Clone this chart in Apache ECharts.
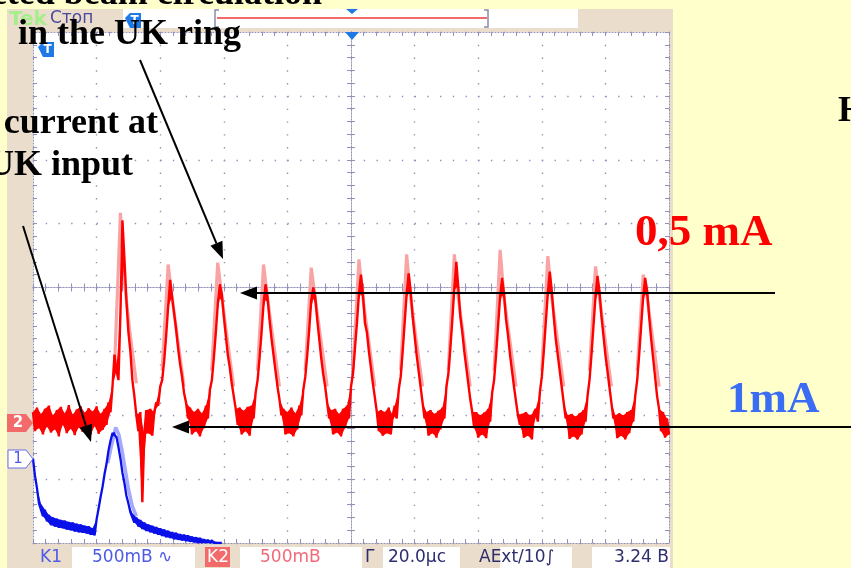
<!DOCTYPE html>
<html><head><meta charset="utf-8">
<script src="https://cdn.jsdelivr.net/npm/echarts@6/dist/echarts.min.js"></script>
<style>html,body{margin:0;padding:0;background:#FFFFCC;overflow:hidden}#c{width:851px;height:568px}</style>
</head><body><div id="c"></div>
<script>
// ---- data (time in µs, amplitude in screen divisions) ----
const timeStartUs = -100;
const sampleStepUs = 0.625;
// channel 2 (red): beam circulation in the ring
const ch2Values = [
-1.95,-2.25,-1.88,-2.20,-1.98,-2.30,-1.90,-2.18,-1.85,-2.27,-2.00,-2.22,-1.92,-2.33,-1.87,-2.15,-1.97,-2.28,-1.84,-2.21,-1.99,-2.31,-1.91,-2.19,-1.86,-2.26,-1.96,-2.24,-1.89,-2.30,-1.94,-2.17,-1.86,-2.29,-1.98,-2.23,-1.90,
-2.15,-1.80,-1.95,-1.55,-1.05,-1.30,-1.45,-0.40,1.05,0.45,-0.20,-0.70,-1.00,-1.45,-1.70,-2.00,-2.25,-1.95,-3.36,-2.30,-1.92,-2.28,-1.90,-2.32,-1.95,-1.80,
-1.85,-1.55,-1.45,-1.15,-0.75,-0.30,0.12,-0.15,-0.40,-0.65,-0.95,-1.20,-1.40,-1.65,-1.80,-2.05,-1.88,-2.30,-1.95,-2.25,-1.90,-2.33,-1.97,-2.20,
-1.85,-2.05,-1.60,-1.45,-1.10,-0.70,-0.25,0.05,-0.10,-0.45,-0.75,-1.05,-1.25,-1.50,-1.70,-1.90,-2.15,-1.88,-2.30,-1.93,-2.25,-1.87,-2.32,
-1.85,-2.05,-1.65,-1.45,-1.10,-0.70,-0.25,0.05,-0.15,-0.50,-0.80,-1.05,-1.30,-1.55,-1.75,-2.00,-1.90,-2.30,-1.95,-2.28,-1.88,-2.33,-1.97,-2.22,
-1.85,-2.00,-1.60,-1.40,-1.05,-0.65,-0.20,0.00,-0.15,-0.50,-0.80,-1.10,-1.35,-1.55,-1.80,-2.05,-1.92,-2.30,-1.90,-2.27,-1.98,-2.33,-1.90,-2.20,
-1.85,-2.05,-1.55,-1.35,-0.95,-0.55,-0.10,0.20,-0.10,-0.55,-0.70,-1.00,-1.25,-1.50,-1.72,-1.95,-2.25,-1.92,-2.32,-1.95,-2.28,-1.88,-2.30,-2.00,
-1.85,-2.05,-1.60,-1.40,-1.00,-0.55,-0.10,0.22,-0.05,-0.45,-0.75,-1.05,-1.30,-1.55,-1.80,-2.05,-1.95,-2.32,-1.92,-2.28,-1.98,-2.35,-1.93,-2.22,
-1.88,-2.05,-1.55,-1.35,-0.95,-0.50,0.00,0.40,0.00,-0.45,-0.70,-1.00,-1.25,-1.50,-1.75,-1.95,-2.20,-1.95,-2.35,-2.00,-2.30,-1.96,-2.36,
-1.90,-2.10,-1.65,-1.45,-1.05,-0.60,-0.15,0.15,-0.10,-0.50,-0.75,-1.05,-1.30,-1.55,-1.78,-2.00,-2.15,-1.98,-2.35,-1.95,-2.32,-2.00,-2.38,-1.96,
-1.90,-2.10,-1.65,-1.40,-1.00,-0.55,-0.10,0.25,-0.05,-0.45,-0.80,-1.05,-1.30,-1.55,-1.80,-2.05,-2.00,-2.37,-1.98,-2.33,-2.02,-2.38,-1.97,-2.30,
-1.92,-2.10,-1.70,-1.45,-1.05,-0.60,-0.15,0.18,-0.05,-0.45,-0.75,-1.05,-1.30,-1.55,-1.80,-2.05,-2.00,-2.36,-1.97,-2.32,-2.00,-2.38,-1.95,-2.28,
-1.92,-2.10,-1.70,-1.45,-1.05,-0.60,-0.15,0.15,-0.05,-0.45,-0.80,-1.10,-1.40,-1.70,-1.90,-2.25,-1.95,-2.35,-2.05,-2.30
];
// channel 2 persistence (lighter) around each turn peak: [time µs, div]
const ch2Persist = [
 [[-74.4,-1.3],[-72.5,1.17],[-71.3,0.1],[-69.4,-0.75],[-67.5,-1.5]],
 [[-59.4,-1.3],[-57.5,0.36],[-56.3,-0.15],[-54.4,-0.85],[-52.5,-1.55]],
 [[-43.8,-1.3],[-41.9,0.39],[-40.6,-0.15],[-38.8,-0.85],[-36.9,-1.55]],
 [[-29.4,-1.3],[-27.5,0.36],[-26.3,-0.15],[-24.4,-0.85],[-22.5,-1.55]],
 [[-14.4,-1.3],[-12.5,0.31],[-11.3,-0.15],[-9.4,-0.85],[-7.5,-1.55]],
 [[0.6,-1.3],[2.5,0.44],[3.7,-0.15],[5.6,-0.85],[7.5,-1.55]],
 [[15.6,-1.3],[17.5,0.52],[18.7,-0.15],[20.6,-0.85],[22.5,-1.55]],
 [[30.6,-1.3],[32.5,0.52],[33.7,-0.15],[35.6,-0.85],[37.5,-1.55]],
 [[45.0,-1.3],[46.9,0.59],[48.1,-0.15],[50.0,-0.85],[51.9,-1.55]],
 [[60.0,-1.3],[61.9,0.49],[63.1,-0.15],[65.0,-0.85],[66.9,-1.55]],
 [[75.0,-1.3],[76.9,0.33],[78.1,-0.15],[80.0,-0.85],[81.9,-1.55]],
 [[90.0,-1.3],[91.9,0.20],[93.1,-0.15],[95.0,-0.85],[96.9,-1.55]]
];
// channel 1 (blue): current at the ring input
const ch1Values = [
-2.68,-2.95,-3.14,-3.38,-3.38,-3.58,-3.48,-3.66,-3.56,-3.72,-3.60,-3.74,-3.62,-3.76,-3.64,-3.77,-3.65,-3.79,-3.67,-3.80,-3.68,-3.82,-3.70,-3.83,-3.71,-3.84,-3.73,-3.85,-3.74,-3.87,-3.77,-3.88,
-3.63,-3.46,-3.28,-3.12,-2.92,-2.76,-2.55,-2.40,-2.28,-2.26,-2.34,-2.50,-2.68,-2.90,-3.06,-3.26,-3.38,-3.52,-3.53,-3.68,-3.60,-3.74,-3.64,-3.78,-3.68,-3.81,-3.71,-3.83,
-3.73,-3.85,-3.75,-3.87,-3.77,-3.89,-3.79,-3.91,-3.81,-3.92,-3.83,-3.94,-3.84,-3.95,-3.86,-3.96,-3.87,-3.97,-3.88,-3.98,-3.90,-3.99,-3.91,-4.00,-3.92,-4.00,-3.94,-4.00,-3.95,-4.00,-3.96,-4.00,-3.98,-4.00,-3.99,-4.00
];
const ch1Persist = [[-76.5,-2.75],[-75.2,-2.45],[-74.0,-2.19],[-73.0,-2.30],[-72.0,-2.55],[-71.0,-2.85],[-70.0,-3.15],[-68.8,-3.42],[-67.5,-3.58]];
// axis: 10 horizontal divisions of 20 µs, 8 vertical divisions
const xMin = -100, xMax = 100, xDiv = 20;
const yMin = -4, yMax = 4, yDiv = 1;

// ---- build ----
const toPairs = vals => vals.map((v, i) => [timeStartUs + i * sampleStepUs, v]);
// noise band polygon (covers the zig-zag of the samples), in data coordinates
function bandOf(vals) {
  const up = [], lo = [];
  vals.forEach((v, i) => {
    const a = vals[Math.max(0, i - 1)], b = vals[Math.min(vals.length - 1, i + 1)], m = (a + b) / 2;
    const t = timeStartUs + i * sampleStepUs;
    up.push([t, Math.max(v, m)]);
    lo.push([t, Math.min(v, m)]);
  });
  return up.concat(lo.reverse());
}
const bandSeries = (vals, color) => ({
  type: 'custom', coordinateSystem: 'cartesian2d', data: [0], clip: true, silent: true, z: 4,
  renderItem: (params, api) => ({type: 'polygon', shape: {points: bandOf(vals).map(p => api.coord(p))}, style: {fill: color}})
});

const gridCol = '#9191BA';
const G = {left: 33, top: 32, width: 636, height: 511};

function axisBase(extra) {
  return Object.assign({
    type: 'value', axisLabel: {show: false}, splitLine: {show: false},
    axisLine: {show: true, onZero: false, lineStyle: {color: gridCol, width: 1, type: [1, 2]}},
    axisTick: {show: true, inside: true, length: 4, lineStyle: {color: gridCol, width: 1}},
    minorTick: {show: true, splitNumber: 5, length: 4, lineStyle: {color: gridCol, width: 1}}
  }, extra);
}
const xa = (pos, extra) => axisBase(Object.assign({min: xMin, max: xMax, interval: xDiv, position: pos}, extra));
const ya = (pos, extra) => axisBase(Object.assign({min: yMin, max: yMax, interval: yDiv, position: pos}, extra));
const zeroLine = idx => ({show: true, onZero: true, onZeroAxisIndex: idx, lineStyle: {color: gridCol, width: 1, type: [1, 2]}});

const series = [];
ch2Persist.forEach(seg => series.push({type: 'line', data: seg, showSymbol: false, silent: true,
  lineStyle: {color: '#F8A4A4', width: 3.2}, z: 3}));
series.push({type: 'line', data: ch1Persist, showSymbol: false, silent: true, lineStyle: {color: '#A4A8FF', width: 3.5}, z: 3});
series.push(bandSeries(ch1Values, '#0A10E8'));
series.push({type: 'line', data: toPairs(ch1Values), showSymbol: false, lineStyle: {color: '#0A10E8', width: 2.3}, z: 4});
series.push(Object.assign(bandSeries(ch2Values, '#FF0000'), {z: 5}));
series.push({type: 'line', data: toPairs(ch2Values), showSymbol: false, lineStyle: {color: '#FF0000', width: 2.4}, z: 5});

// ---- decoration helpers ----
const graphics = [];
const rect = (x, y, w, h, fill, z) => graphics.push({type: 'rect', shape: {x, y, width: w, height: h}, style: {fill}, z: z == null ? -10 : z, silent: true});
const txt = (s, x, y, font, fill, align, z) => graphics.push({type: 'text', x, y, style: {text: s, font, fill, align: align || 'left', verticalAlign: 'middle'}, z: z == null ? 50 : z, silent: true});
function arrow(x1, y1, x2, y2) {
  const dx = x2 - x1, dy = y2 - y1, L = Math.hypot(dx, dy), ux = dx / L, uy = dy / L;
  const hl = 17, hw = 6.5, bx = x2 - ux * hl, by = y2 - uy * hl;
  graphics.push({type: 'line', shape: {x1, y1, x2: bx, y2: by}, style: {stroke: '#000', lineWidth: 2}, z: 60, silent: true});
  graphics.push({type: 'polygon', shape: {points: [[x2, y2], [bx - uy * hw, by + ux * hw], [bx + uy * hw, by - ux * hw]]}, style: {fill: '#000'}, z: 60, silent: true});
}

// scope frame
rect(7, 9, 666, 559, '#EBDDCB');
rect(123, 9, 455, 19, '#FFFFFF');
// status bar boxes
rect(72, 547, 123, 21, '#FFFFFF');
rect(205, 547, 25, 20, '#F26A6A');
rect(240, 547, 122, 21, '#FFFFFF');
rect(383, 547, 77, 21, '#FFFFFF');
rect(500, 547, 72, 21, '#FFFFFF');
rect(592, 547, 78, 21, '#FFFFFF');
const sf = '17px "DejaVu Sans"';
txt('K1', 40, 558, sf, '#4F5BE6', 'left', 5);
txt('500mB \u223F', 92, 558, sf, '#4F5BE6', 'left', 5);
txt('K2', 207, 558, sf, '#FFFFFF', 'left', 5);
txt('500mB', 260, 558, sf, '#F26A7A', 'left', 5);
txt('\u0393', 365, 558, sf, '#2E2E6E', 'left', 5);
txt('20.0\u00B5c', 388, 558, sf, '#2E2E6E', 'left', 5);
txt('AExt/10\u222B', 479, 558, sf, '#2E2E6E', 'left', 5);
txt('3.24 B', 669, 558, sf, '#2E2E6E', 'right', 5);
// top bar
txt('Tek', 9, 20, 'bold 20px "DejaVu Sans"', '#A6EE8C', 'left', 5);
txt('\u0421\u0442\u043E\u043F', 50, 19, '17px "DejaVu Sans"', '#4B4B9E', 'left', 5);
graphics.push({type: 'line', shape: {x1: 217, y1: 18, x2: 487, y2: 18}, style: {stroke: '#F26A6A', lineWidth: 2}, z: 5, silent: true});
graphics.push({type: 'polyline', shape: {points: [[219, 10], [215, 10], [215, 27], [219, 27]]}, style: {stroke: '#8A8AA8', lineWidth: 1.5, fill: null}, z: 5, silent: true});
graphics.push({type: 'polyline', shape: {points: [[484, 10], [488, 10], [488, 27], [484, 27]]}, style: {stroke: '#8A8AA8', lineWidth: 1.5, fill: null}, z: 5, silent: true});
graphics.push({type: 'polygon', shape: {points: [[346, 9], [358, 9], [352, 14]]}, style: {fill: '#1E78E6'}, z: 5, silent: true});
graphics.push({type: 'polygon', shape: {points: [[345, 32], [359, 32], [352, 40]]}, style: {fill: '#1E78E6'}, z: 6, silent: true});
function tTag(x, y) {
  graphics.push({type: 'polygon', shape: {points: [[x, y + 5], [x + 5, y], [x + 16, y], [x + 16, y + 15], [x + 5, y + 15]]}, style: {fill: '#1E78E6'}, z: 6, silent: true});
  txt('T', x + 9.5, y + 8, 'bold 12px "DejaVu Sans"', '#FFFFFF', 'center', 7);
}
tTag(125, 13);
tTag(38, 42);
// channel markers
graphics.push({type: 'polygon', shape: {points: [[7, 414], [26, 414], [33, 423], [26, 432], [7, 432]]}, style: {fill: '#F26A6A'}, z: 6, silent: true});
txt('2', 18, 423.5, 'bold 15px "DejaVu Sans"', '#FFFFFF', 'center', 7);
graphics.push({type: 'polygon', shape: {points: [[8, 450], [26, 450], [33, 459], [26, 468], [8, 468]]}, style: {fill: '#FFFFFF', stroke: '#6A70E8', lineWidth: 1}, z: 6, silent: true});
txt('1', 18, 459.5, '15px "DejaVu Sans"', '#4F5BE6', 'center', 7);

// annotations
const af = 'bold 36px "Liberation Serif"';
txt('Injected beam circulation', 322, -5, af, '#000', 'right', 70);
txt('in the UK ring', 18, 35, af, '#000', 'left', 70);
txt('current at', 158, 124, af, '#000', 'right', 70);
txt('UK input', 133, 166, af, '#000', 'right', 70);
txt('H', 838, 112, af, '#000', 'left', 70);
txt('0,5 mA', 635, 233, 'bold 45px "Liberation Serif"', '#FF0000', 'left', 70);
txt('1mA', 727, 400, 'bold 45px "Liberation Serif"', '#3A6CF4', 'left', 70);
arrow(140, 60, 223, 259);
arrow(23, 226, 91, 442);
arrow(775, 293, 240, 293);
arrow(851, 427, 172, 427);

const option = {
  animation: false,
  backgroundColor: 'transparent',
  grid: Object.assign({show: true, backgroundColor: '#FFFFFF', borderWidth: 0, containLabel: false}, G),
  xAxis: [
    xa('bottom', {splitLine: {show: true, lineStyle: {color: gridCol, width: 1.4, type: [1.4, 11.375]}}}),
    xa('top'),
    xa('bottom', {axisLine: zeroLine(0)}),
    xa('top', {axisLine: zeroLine(0)})
  ],
  yAxis: [
    ya('left', {splitLine: {show: true, lineStyle: {color: gridCol, width: 1.4, type: [1.4, 11.32]}}}),
    ya('right'),
    ya('left', {axisLine: zeroLine(0)}),
    ya('right', {axisLine: zeroLine(0)})
  ],
  series,
  graphic: {elements: graphics}
};
const chart = echarts.init(document.getElementById('c'), null, {renderer: 'canvas'});
chart.setOption(option);
</script></body></html>
